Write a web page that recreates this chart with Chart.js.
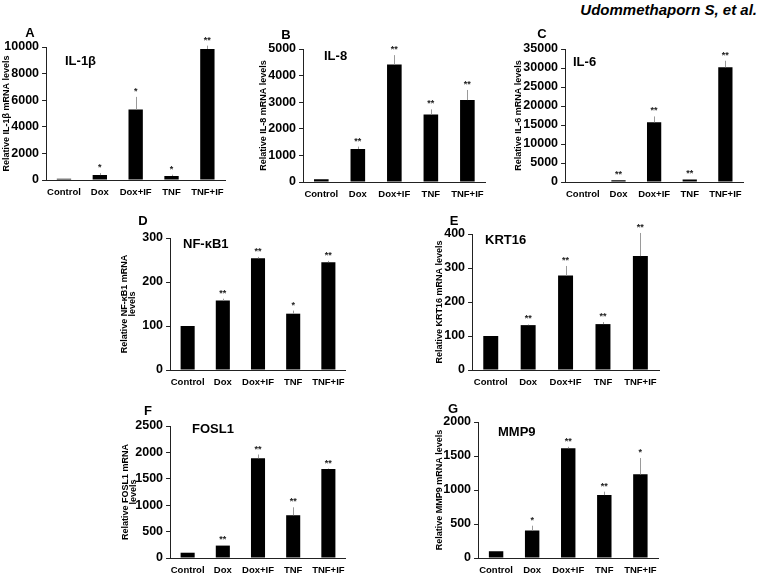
<!DOCTYPE html>
<html>
<head>
<meta charset="utf-8">
<script src="https://cdn.jsdelivr.net/npm/chart.js@4"></script>
<style>
	body { margin: 0; background: #fff; width: 763px; height: 573px; position: relative; overflow: hidden;
		font-family: "Liberation Sans", Arial, sans-serif; }
	canvas { position: absolute; }
	.lbl { position: absolute; font-weight: bold; color: #000; white-space: nowrap; line-height: 1; }
	.letter { font-size: 13px; transform: translate(-50%, -50%); }
	.gene { font-size: 13px; transform: translateY(-50%); }
	#author { right: 6px; top: 2px; font-size: 15px; font-style: italic; }
</style>
</head>
<body>
<div class="lbl" id="author">Udommethaporn S, et al.</div>
<script>
const FONT = "'Liberation Sans', Arial, sans-serif";

// categories shared by every panel
const categories = ["Control", "Dox", "Dox+IF", "TNF", "TNF+IF"];

// A: IL-1β
const il1bMean = [100, 370, 5300, 300, 9850];
const il1bErr = [0, 150, 950, 100, 250];
const il1bStars = ["", "*", "*", "*", "**"];
const il1bTicks = { max: 10000, step: 2000 };

// B: IL-8
const il8Mean = [100, 1240, 4420, 2540, 3080];
const il8Err = [0, 90, 350, 190, 380];
const il8Stars = ["", "**", "**", "**", "**"];
const il8Ticks = { max: 5000, step: 1000 };

// C: IL-6
const il6Mean = [100, 430, 15700, 680, 30200];
const il6Err = [0, 0, 1550, 0, 1700];
const il6Stars = ["", "**", "**", "**", "**"];
const il6Ticks = { max: 35000, step: 5000 };

// D: NF-κB1
const nfkbMean = [100, 158, 254, 128, 245];
const nfkbErr = [0, 4, 3, 7, 3];
const nfkbStars = ["", "**", "**", "*", "**"];
const nfkbTicks = { max: 300, step: 100 };

// E: KRT16
const krtMean = [100, 132, 278, 135, 335];
const krtErr = [0, 2, 28, 6, 68];
const krtStars = ["", "**", "**", "**", "**"];
const krtTicks = { max: 400, step: 100 };

// F: FOSL1
const foslMean = [100, 235, 1890, 810, 1685];
const foslErr = [0, 5, 70, 150, 10];
const foslStars = ["", "**", "**", "**", "**"];
const foslTicks = { max: 2500, step: 500 };

// G: MMP9
const mmpMean = [100, 405, 1615, 925, 1230];
const mmpErr = [0, 70, 20, 50, 240];
const mmpStars = ["", "*", "**", "**", "*"];
const mmpTicks = { max: 2000, step: 500 };

// 上向きのエラーバーと有意差の星を描く
const errBarsPlugin = {
	id: "errBars",
	afterDatasetsDraw(chart, args, opts) {
		const ctx = chart.ctx;
		const ys = chart.scales.y;
		const meta = chart.getDatasetMeta(0);
		ctx.save();
		meta.data.forEach((bar, i) => {
			const yTop = ys.getPixelForValue(opts.mean[i] + opts.err[i]);
			if (opts.err[i] > 0) {
				ctx.strokeStyle = "#9a9a9a";
				ctx.lineWidth = 1;
				ctx.beginPath();
				ctx.moveTo(Math.round(bar.x) + 0.5, bar.y);
				ctx.lineTo(Math.round(bar.x) + 0.5, yTop);
				ctx.stroke();
			}
			if (opts.stars[i]) {
				ctx.fillStyle = "#222";
				ctx.font = "bold 9px " + FONT;
				ctx.textAlign = "center";
				ctx.textBaseline = "alphabetic";
				ctx.fillText(opts.stars[i], bar.x, yTop - 3);
			}
		});
		ctx.restore();
	},
};

function addText(cls, text, x, y) {
	const d = document.createElement("div");
	d.className = "lbl " + cls;
	d.textContent = text;
	d.style.left = x + "px";
	d.style.top = y + "px";
	document.body.appendChild(d);
}

function drawPanel(p) {
	const padTop = 30;
	const xAxisH = 22;
	const titleOffset = 4.05;
	const left = p.titleX - titleOffset;
	const top = p.topY - padTop;
	const width = p.endX - left + 4;
	const height = p.zeroY - top + xAxisH;

	const cv = document.createElement("canvas");
	cv.width = width;
	cv.height = height;
	cv.style.left = left + "px";
	cv.style.top = top + "px";
	document.body.appendChild(cv);

	new Chart(cv.getContext("2d"), {
		type: "bar",
		data: {
			labels: categories,
			datasets: [{
				data: p.mean,
				backgroundColor: "#000",
				barPercentage: 0.4,
				categoryPercentage: 1,
			}],
		},
		options: {
			responsive: false,
			animation: false,
			devicePixelRatio: 1,
			layout: { padding: { top: padTop, left: 0, right: 4, bottom: 0 } },
			plugins: {
				legend: { display: false },
				tooltip: { enabled: false },
				errBars: { mean: p.mean, err: p.err, stars: p.stars },
			},
			scales: {
				x: {
					grid: { display: false, drawTicks: false },
					border: { color: "#222", width: 1 },
					ticks: {
						color: "#000",
						font: { size: 9.5, weight: "bold", family: FONT },
						padding: 7,
						maxRotation: 0,
						autoSkip: false,
					},
					afterFit: (s) => { s.height = xAxisH; },
				},
				y: {
					min: 0,
					max: p.ticks.max,
					ticks: {
						stepSize: p.ticks.step,
						color: "#000",
						font: { size: 12.5, weight: "bold", family: FONT },
						padding: 3,
						callback: (v) => String(v), // 桁区切りのカンマを付けない
					},
					grid: { drawOnChartArea: false, drawTicks: true, tickLength: 4, color: "#222" },
					border: { color: "#222", width: 1 },
					title: {
						display: true,
						text: p.yTitle,
						color: "#000",
						font: { size: 9, weight: "bold", family: FONT, lineHeight: 0.9 },
						padding: 0,
					},
					afterFit: (s) => { s.width = p.axisX - left; },
				},
			},
		},
		plugins: [errBarsPlugin],
	});

	addText("letter", p.letter, p.letterX, p.letterY);
	addText("gene", p.gene, p.geneX, p.geneY);
}

drawPanel({ letter: "A", gene: "IL-1β", yTitle: "Relative IL-1β mRNA levels",
	mean: il1bMean, err: il1bErr, stars: il1bStars, ticks: il1bTicks,
	axisX: 46, topY: 47, zeroY: 180, endX: 227, titleX: 6,
	letterX: 30, letterY: 32, geneX: 65, geneY: 60 });

drawPanel({ letter: "B", gene: "IL-8", yTitle: "Relative IL-8 mRNA levels",
	mean: il8Mean, err: il8Err, stars: il8Stars, ticks: il8Ticks,
	axisX: 303, topY: 49, zeroY: 182, endX: 487, titleX: 263,
	letterX: 286, letterY: 34, geneX: 324, geneY: 55 });

drawPanel({ letter: "C", gene: "IL-6", yTitle: "Relative IL-6 mRNA levels",
	mean: il6Mean, err: il6Err, stars: il6Stars, ticks: il6Ticks,
	axisX: 565, topY: 49, zeroY: 182, endX: 745, titleX: 518,
	letterX: 542, letterY: 33, geneX: 573, geneY: 61 });

drawPanel({ letter: "D", gene: "NF-κB1", yTitle: ["Relative NF-κB1 mRNA", "levels"],
	mean: nfkbMean, err: nfkbErr, stars: nfkbStars, ticks: nfkbTicks,
	axisX: 170, topY: 238, zeroY: 370, endX: 348, titleX: 124,
	letterX: 143, letterY: 220, geneX: 183, geneY: 243 });

drawPanel({ letter: "E", gene: "KRT16", yTitle: "Relative KRT16 mRNA levels",
	mean: krtMean, err: krtErr, stars: krtStars, ticks: krtTicks,
	axisX: 472, topY: 234, zeroY: 370, endX: 660, titleX: 439,
	letterX: 454, letterY: 220, geneX: 485, geneY: 239 });

drawPanel({ letter: "F", gene: "FOSL1", yTitle: ["Relative FOSL1 mRNA", "levels"],
	mean: foslMean, err: foslErr, stars: foslStars, ticks: foslTicks,
	axisX: 170, topY: 426, zeroY: 558, endX: 348, titleX: 125,
	letterX: 148, letterY: 410, geneX: 192, geneY: 428 });

drawPanel({ letter: "G", gene: "MMP9", yTitle: "Relative MMP9 mRNA levels",
	mean: mmpMean, err: mmpErr, stars: mmpStars, ticks: mmpTicks,
	axisX: 478, topY: 422, zeroY: 558, endX: 660, titleX: 439,
	letterX: 453, letterY: 408, geneX: 498, geneY: 431 });
</script>
</body>
</html>
